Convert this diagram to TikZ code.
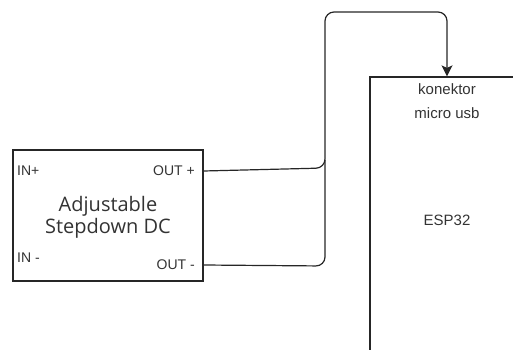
\documentclass[tikz,border=0pt]{standalone}
\usepackage{fontspec}
\setmainfont{Liberation Sans}
\newfontfamily\boxfont{Open Sans}
\usetikzlibrary{arrows.meta,positioning}
\tikzstyle{module} = [rectangle, draw=black!85, line width=1.2pt, inner sep=0pt]
\tikzstyle{pin} = [font=\fontsize{14}{16}\selectfont, text=black!80, inner sep=0pt]
\tikzstyle{wire} = [draw=black!85, line width=1.2pt, rounded corners=9pt]
\tikzstyle{arrow} = [wire, -{Stealth[length=11pt,width=11pt,inset=2.5pt]}]

\begin{document}
\begin{tikzpicture}[x=1pt,y=-1pt]
\clip (0,0) rectangle (513,350);
\node (step) [module, minimum width=190pt, minimum height=131pt] at (108,215.5) {};
\node (title) [font=\boxfont\fontsize{20}{22}\selectfont, align=center, text=black!80] at (108,217) {Adjustable\\Stepdown DC};
\node (inp) [pin, anchor=west] at (17,171) {IN+};
\node (inm) [pin, anchor=west] at (17,258) {IN -};
\node (outp) [pin, anchor=east] at (195,171) {OUT +};
\node (outm) [pin, anchor=east] at (195,265) {OUT -};
\node (esp) [module, minimum width=154pt, minimum height=286pt] at (447,220) {};
\node (usb) [pin, align=center, font=\fontsize{15}{24}\selectfont] at (447,101) {konektor\\micro usb};
\node (name) [pin, font=\fontsize{15}{17}\selectfont] at (447,220) {ESP32};
\draw [arrow] (step.east |- outp) -- (325,168) -- (325,12) -- (447,12) -- (esp.north);
\draw [wire] (step.east |- outm) -- (325,266) -- (325,160);

\end{tikzpicture}
\end{document}
